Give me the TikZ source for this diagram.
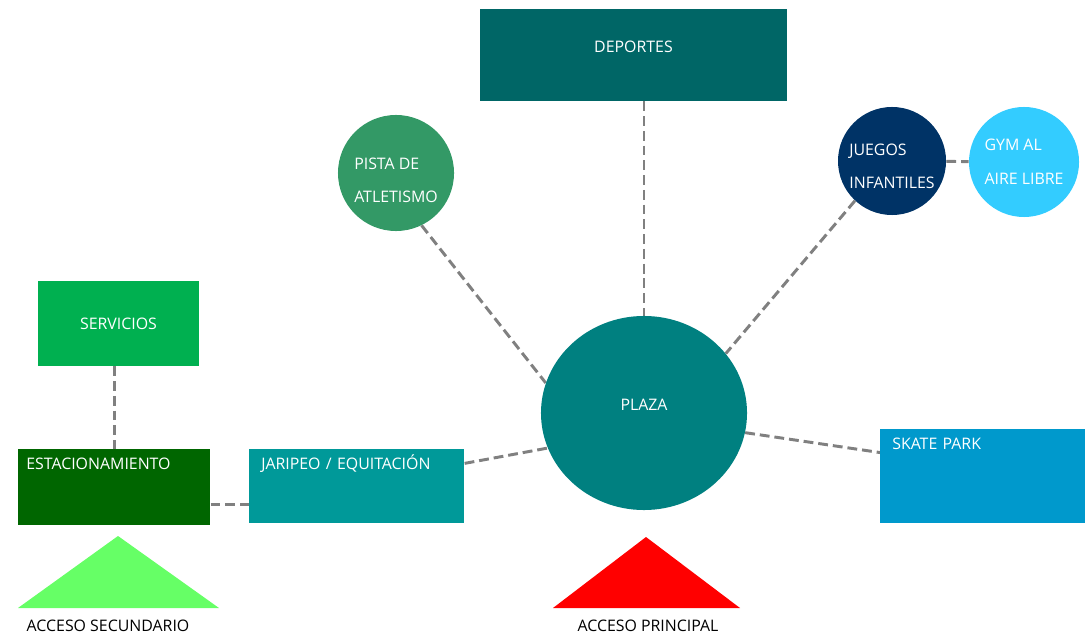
\documentclass[tikz,border=0pt]{standalone}
\usepackage{fontspec}
\setmainfont{Open Sans}
\usetikzlibrary{shapes.geometric, positioning, backgrounds}
\usepackage{xcolor}

\definecolor{deportescol}{HTML}{006666}
\definecolor{pistacol}{HTML}{339966}
\definecolor{juegoscol}{HTML}{003366}
\definecolor{gymcol}{HTML}{33CCFF}
\definecolor{servicioscol}{HTML}{00B050}
\definecolor{estaccol}{HTML}{006600}
\definecolor{jaripeocol}{HTML}{009999}
\definecolor{plazacol}{HTML}{008080}
\definecolor{skatecol}{HTML}{0099CC}
\definecolor{seccol}{HTML}{66FF66}
\definecolor{princol}{HTML}{FF0000}
\definecolor{linkgray}{HTML}{808080}

\begin{document}
\begin{tikzpicture}[
        x=0.025cm, y=-0.025cm,
        font=\fontsize{11.3}{12}\selectfont,
        % Define styles for the nodes
        area/.style={rectangle, text=white, inner sep=0pt, align=center},
        corner/.style={rectangle, anchor=north west, text=white, align=left, inner xsep=0.3cm, inner ysep=0.2cm, text height=0.3cm},
        zone/.style={circle, text=white, inner sep=0pt, align=left, font=\fontsize{11.3}{24}\selectfont},
        link/.style={draw=linkgray, line width=2.1pt, dash pattern=on 7pt off 3.5pt},
        access/.style={text=black, inner sep=1pt}
    ]

        \useasboundingbox (0,0) rectangle (1089,635);

        % --- Nodes ---
        \node[area, fill=deportescol, minimum width=7.675cm, minimum height=2.3cm, text depth=0.4cm] (deportes) at (633.5,55) {DEPORTES};
        \node[zone, fill=pistacol, minimum size=2.9cm, text height=1.5cm] (pista) at (396,173) {PISTA DE\\ATLETISMO};
        \node[zone, fill=juegoscol, minimum size=2.7cm, text height=1.4cm] (juegos) at (892,161) {JUEGOS\\INFANTILES};
        \node[zone, fill=gymcol, minimum size=2.75cm] (gym) at (1024,162) {GYM AL\\AIRE LIBRE};

        \node[ellipse, fill=plazacol, text=white, inner sep=0pt, minimum width=5.15cm, minimum height=4.85cm, text depth=0.4cm] (plaza) at (644,413) {PLAZA};

        \node[area, fill=servicioscol, minimum width=4.025cm, minimum height=2.125cm] (servicios) at (118.5,323.5) {SERVICIOS};
        \node[corner, fill=estaccol, inner xsep=0.2cm, text width=4.4cm, minimum height=1.9cm, text depth=1.2cm] (estac) at (18,449) {ESTACIONAMIENTO};
        \node[corner, fill=jaripeocol, text width=4.775cm, minimum height=1.85cm, text depth=1.15cm] (jaripeo) at (249,449) {JARIPEO / EQUITACIÓN};
        \node[corner, fill=skatecol, text width=4.525cm, minimum height=2.35cm, text depth=1.65cm] (skate) at (880,429) {SKATE PARK};

        % access triangles
        \fill[seccol] (18,608) -- (118,536) -- (219,608) -- cycle;
        \fill[princol] (553,608) -- (646,537) -- (740,608) -- cycle;
        \node[access] (secundario) at (108,626) {ACCESO SECUNDARIO};
        \node[access] (principal) at (648,626) {ACCESO PRINCIPAL};

        % --- Edges ---
        \begin{scope}[on background layer]
            \draw[link] (plaza.north |- deportes.south) -- (plaza.north);
            \draw[link] (pista.-64) -- (plaza.163);
            \draw[link] (juegos.227) -- (plaza.36);
            \draw[link] (juegos) -- (gym);
            \draw[link] (plaza.-11) -- (skate.167);
            \draw[link] (jaripeo.12) -- (plaza.200);
            \draw[link] (servicios.south -| estac.north) -- (estac.north);
            \draw[link] (estac.-10) -- (estac.-10 -| jaripeo.west);
        \end{scope}

    \end{tikzpicture}
\end{document}
